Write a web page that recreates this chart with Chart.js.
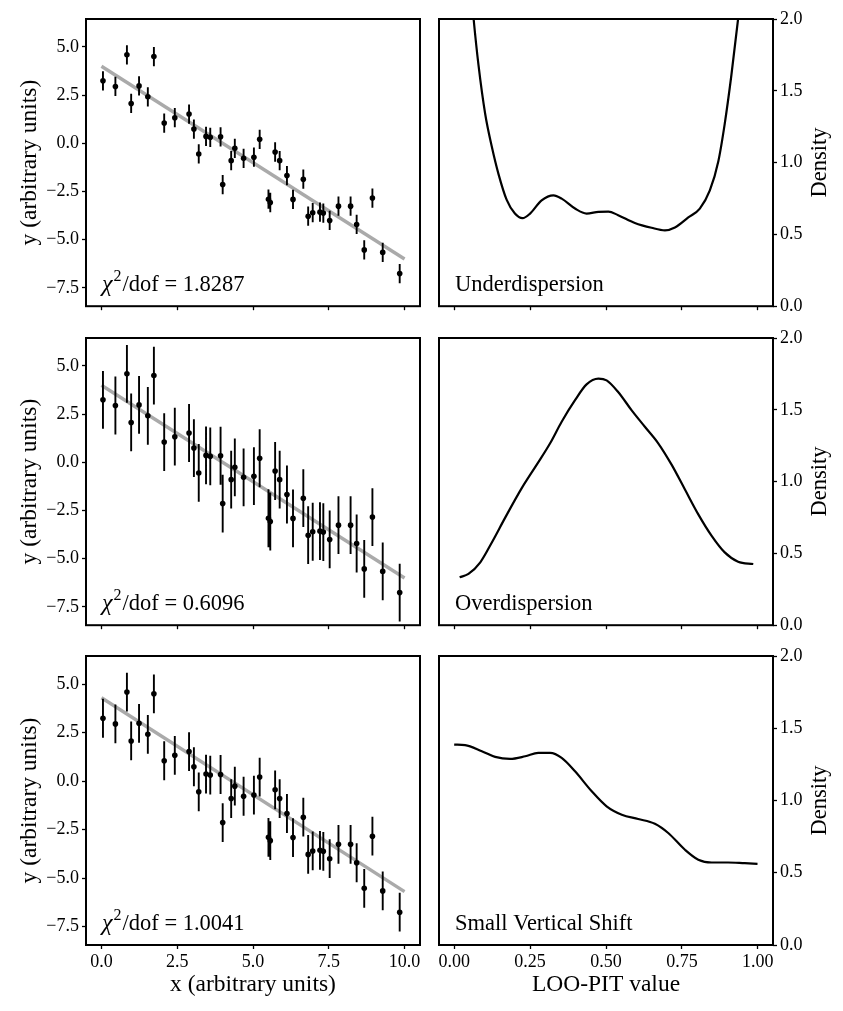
<!DOCTYPE html>
<html>
<head>
<meta charset="utf-8">
<script src="https://cdn.jsdelivr.net/npm/chart.js@4.4.1/dist/chart.umd.min.js"></script>
<style>
  body { margin: 0; background: #fff; }
  #page { position: relative; width: 843px; height: 1011px; overflow: hidden; }
  .panel { position: absolute; }
</style>
</head>
<body>
<div id="page"></div>
<script>
// observations (same points in every row)
const obsX = [0.05, 0.46, 0.84, 0.98, 1.24, 1.53, 1.73, 2.07, 2.42, 2.89,
    3.05, 3.21, 3.45, 3.59, 3.93, 4.00, 4.28, 4.40, 4.69, 5.03,
    5.22, 5.51, 5.57, 5.73, 5.88, 6.12, 6.32, 6.66, 6.82, 6.97,
    7.21, 7.32, 7.53, 7.82, 8.22, 8.42, 8.67, 8.94, 9.28, 9.84]
const obsY = [3.24, 2.95, 4.59, 2.07, 2.98, 2.41, 4.50, 1.05, 1.33, 1.52,
    0.74, -0.55, 0.36, 0.31, 0.34, -2.14, -0.90, -0.26, -0.78, -0.72,
    0.21, -2.90, -3.07, -0.45, -0.90, -1.67, -2.91, -1.86, -3.78, -3.60,
    -3.57, -3.62, -4.00, -3.26, -3.26, -4.21, -5.53, -2.84, -5.66, -6.76]
const rowErrors = [0.5, 1.5, 1.0]
const fitX = [0, 10]
const fitY = [[4.0, -6.0], [4.0, -6.0], [4.3, -5.7]]
const chiValues = ['1.8287', '0.6096', '1.0041']

// LOO-PIT densities
const underX = [0.0, 0.03, 0.05, 0.064, 0.08, 0.102, 0.124, 0.146, 0.173, 0.20, 0.225, 0.25,
    0.288, 0.327, 0.354, 0.398, 0.436, 0.475, 0.508, 0.54, 0.595, 0.65, 0.694, 0.727,
    0.771, 0.809, 0.842, 0.87, 0.891, 0.913, 0.935, 0.95, 0.97, 1.0]
const underY = [3.9, 2.9, 2.34, 2.0, 1.68, 1.34, 1.11, 0.92, 0.74, 0.645, 0.613, 0.645,
    0.737, 0.772, 0.749, 0.68, 0.645, 0.657, 0.659, 0.634, 0.58, 0.546, 0.528, 0.548,
    0.618, 0.68, 0.806, 1.01, 1.27, 1.61, 2.0, 2.3, 2.76, 3.57]
const overX = [0.018, 0.047, 0.086, 0.124, 0.168, 0.223, 0.272, 0.316, 0.354, 0.398, 0.436, 0.475,
    0.502, 0.54, 0.584, 0.628, 0.672, 0.716, 0.76, 0.804, 0.848, 0.891, 0.935, 0.985]
const overY = [0.334, 0.357, 0.438, 0.576, 0.749, 0.956, 1.118, 1.267, 1.417, 1.567, 1.677, 1.717,
    1.705, 1.624, 1.498, 1.382, 1.267, 1.118, 0.945, 0.772, 0.622, 0.507, 0.442, 0.426]
const shiftX = [0.0, 0.036, 0.091, 0.135, 0.184, 0.234, 0.277, 0.316, 0.354, 0.398, 0.453,
    0.502, 0.552, 0.606, 0.661, 0.705, 0.76, 0.804, 0.848, 0.902, 0.957, 0.999]
const shiftY = [1.387, 1.383, 1.341, 1.302, 1.288, 1.306, 1.329, 1.329, 1.295, 1.202, 1.064,
    0.96, 0.902, 0.872, 0.839, 0.775, 0.659, 0.59, 0.571, 0.571, 0.566, 0.562]
const densityX = [underX, overX, shiftX]
const densityY = [underY, overY, shiftY]
const densityLabels = ['Underdispersion', 'Overdispersion', 'Small Vertical Shift']

// tick labels
const leftXTicks = [0, 2.5, 5, 7.5, 10]
const leftYTicks = [-7.5, -5, -2.5, 0, 2.5, 5]
const rightXTicks = [0, 0.25, 0.5, 0.75, 1]
const rightYTicks = [0, 0.5, 1, 1.5, 2]

const FONT = '"Liberation Serif", "Times New Roman", serif'
const rowTop = [19, 337.5, 656]
const rowH = 289

function fmt(v, digits) {
    return v.toFixed(digits).replace('-', '\u2212')
}

function pairs(xs, ys) {
    return xs.map((x, i) => ({x: x, y: ys[i]}))
}

function errorSegments(xs, ys, err) {
    let out = []
    for (let i = 0; i < xs.length; i++) {
        out.push({x: xs[i], y: ys[i] - err}, {x: xs[i], y: ys[i] + err}, {x: xs[i], y: null})
    }
    return out
}

const frameAndText = {
    id: 'frameAndText',
    afterDatasetsDraw(chart) {
        const {ctx, chartArea: a} = chart
        ctx.save()
        ctx.strokeStyle = '#000'
        ctx.lineWidth = 2
        ctx.strokeRect(a.left, a.top, a.right - a.left, a.bottom - a.top)
        ctx.restore()
    },
    afterDraw(chart, args, opts) {
        const {ctx, chartArea: a} = chart
        ctx.save()
        ctx.fillStyle = '#000'
        ctx.textBaseline = 'alphabetic'
        ctx.textAlign = 'left'
        let x = a.left + 16
        let y = a.bottom - 15
        if (opts.chi) {
            ctx.font = 'italic 24px ' + FONT
            ctx.fillText('\u03c7', x, y)
            x += ctx.measureText('\u03c7').width + 1
            ctx.font = '16px ' + FONT
            ctx.fillText('2', x, y - 10)
            x += ctx.measureText('2').width + 1
            ctx.font = '22.5px ' + FONT
            ctx.fillText('/dof = ' + opts.chi, x, y)
        }
        if (opts.label) {
            ctx.font = '22.5px ' + FONT
            ctx.fillText(opts.label, x, y)
        }
        if (opts.sideTitle) {
            ctx.translate(chart.width - 23, (a.top + a.bottom) / 2)
            ctx.rotate(-Math.PI / 2)
            ctx.textAlign = 'center'
            ctx.textBaseline = 'middle'
            ctx.font = '22.5px ' + FONT
            ctx.fillText(opts.sideTitle, 0, 0)
        }
        ctx.restore()
    }
}

function axis(opts) {
    return {
        type: 'linear',
        position: opts.position,
        min: opts.min,
        max: opts.max,
        afterBuildTicks: s => { s.ticks = opts.ticks.map(v => ({value: v})) },
        afterFit: s => {
            if (opts.width !== undefined) s.width = opts.width
            if (opts.height !== undefined) s.height = opts.height
        },
        ticks: {
            display: opts.labels,
            color: '#000',
            font: {family: FONT, size: 18},
            padding: opts.padding,
            maxRotation: 0,
            autoSkip: false,
            callback: v => fmt(v, opts.digits)
        },
        grid: {drawOnChartArea: false, drawTicks: true, tickLength: 4, tickWidth: 1.3, tickColor: '#000'},
        border: {display: false},
        title: opts.title ? {
            display: true, text: opts.title, color: '#000',
            font: {family: FONT, size: 23.5}, padding: opts.titlePadding
        } : {display: false}
    }
}

function makePanel(left, top, width, height) {
    const div = document.createElement('div')
    div.className = 'panel'
    div.style.left = left + 'px'
    div.style.top = top + 'px'
    div.style.width = width + 'px'
    div.style.height = height + 'px'
    const canvas = document.createElement('canvas')
    div.appendChild(canvas)
    document.getElementById('page').appendChild(div)
    return canvas
}

function fitPanel(row) {
    const last = row === 2
    const top = rowTop[row] - 19
    const height = last ? 1011 - top : 19 + rowH + 12
    const canvas = makePanel(0, top, 430, height)
    new Chart(canvas, {
        type: 'line',
        data: {
            datasets: [
                {
                    data: pairs(obsX, obsY), showLine: false, order: 0,
                    pointRadius: 2.8, pointBackgroundColor: '#000', pointBorderWidth: 0
                },
                {
                    data: errorSegments(obsX, obsY, rowErrors[row]), order: 1, spanGaps: false,
                    borderColor: '#000', borderWidth: 1.9, pointRadius: 0
                },
                {
                    data: pairs(fitX, fitY[row]), order: 2,
                    borderColor: '#aaaaaa', borderWidth: 3.4, pointRadius: 0
                }
            ]
        },
        options: {
            animation: false,
            responsive: true,
            maintainAspectRatio: false,
            layout: {padding: {top: 19, right: 10, left: 0, bottom: 0}},
            plugins: {legend: {display: false}, tooltip: {enabled: false}, frameAndText: {chi: chiValues[row]}},
            scales: {
                x: axis({position: 'bottom', min: -0.51, max: 10.51, ticks: leftXTicks, digits: 1,
                    labels: last, padding: 2, height: height - 19 - rowH,
                    title: last ? 'x (arbitrary units)' : null, titlePadding: {top: 0, bottom: 12}}),
                y: axis({position: 'left', min: -8.45, max: 6.45, ticks: leftYTicks, digits: 1,
                    labels: true, padding: 3, width: 86,
                    title: 'y (arbitrary units)', titlePadding: {top: 16, bottom: 0}})
            }
        },
        plugins: [frameAndText]
    })
}

function densityPanel(row) {
    const last = row === 2
    const top = rowTop[row] - 19
    const height = last ? 1011 - top : 19 + rowH + 12
    const canvas = makePanel(430, top, 413, height)
    new Chart(canvas, {
        type: 'line',
        data: {
            datasets: [{
                data: pairs(densityX[row], densityY[row]),
                borderColor: '#000', borderWidth: 2.2, pointRadius: 0,
                cubicInterpolationMode: 'monotone', clip: 0
            }]
        },
        options: {
            animation: false,
            responsive: true,
            maintainAspectRatio: false,
            layout: {padding: {top: 19, right: 0, left: 9, bottom: 0}},
            plugins: {
                legend: {display: false}, tooltip: {enabled: false},
                frameAndText: {label: densityLabels[row], sideTitle: 'Density'}
            },
            scales: {
                x: axis({position: 'bottom', min: -0.05, max: 1.05, ticks: rightXTicks, digits: 2,
                    labels: last, padding: 2, height: height - 19 - rowH,
                    title: last ? 'LOO-PIT value' : null, titlePadding: {top: 0, bottom: 12}}),
                y: axis({position: 'right', min: 0, max: 2, ticks: rightYTicks, digits: 1,
                    labels: true, padding: 3, width: 70})
            }
        },
        plugins: [frameAndText]
    })
}

for (let r = 0; r < 3; r++) {
    fitPanel(r)
    densityPanel(r)
}
</script>
</body>
</html>
